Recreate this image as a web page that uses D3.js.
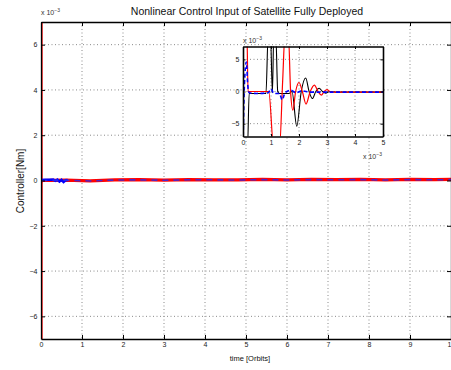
<!DOCTYPE html>
<html>
<head>
<meta charset="utf-8">
<script src="https://cdn.jsdelivr.net/npm/d3@7"></script>
<style>
body { margin: 0; background: #fff; }
svg { display: block; font-family: "Liberation Sans", Arial, sans-serif; }
</style>
</head>
<body>
<svg id="chart" width="451" height="370"></svg>
<script>
// ticks
var xTicks = [0, 1, 2, 3, 4, 5, 6, 7, 8, 9, 10];
var yTicks = [-6, -4, -2, 0, 2, 4, 6];
var insetXTicks = [0, 1, 2, 3, 4, 5];
var insetYTicks = [-5, 0, 5];

// start-up transient (time in 1e-3 orbits, torque in 1e-3 Nm)
var redT   = [0, 0.14, 0.18, 0.5, 0.92, 1.1, 1.3, 1.42, 1.5, 1.62, 1.7, 1.78, 1.88, 2.0, 2.12, 2.25, 2.4, 2.55, 2.68, 2.8, 2.9, 3.0, 3.1, 3.2, 3.4, 5];
var redV   = [9, 9, 0, 0, 0, -9, -9, 2, 9, 9, 0, -2.9, 0, 1.4, 0, -1.95, 0, 1.0, 0, -0.55, 0, 0.3, 0, -0.1, -0.1, -0.1];
var blackT = [0, 0.16, 0.22, 0.5, 0.82, 0.9, 0.98, 1.05, 1.1, 1.17, 1.24, 1.3, 1.65, 1.75, 1.92, 2.08, 2.24, 2.36, 2.48, 2.6, 2.72, 2.84, 2.95, 3.1, 3.3, 5];
var blackV = [-9, -9, -0.3, -0.3, -0.3, 9, 9, -0.2, 9, 9, 0, -0.3, -0.3, 0, -5.4, 0, 2.1, 0, -1.1, 0, 0.5, 0, -0.25, 0, -0.1, -0.1];
var blueT  = [0, 0.05, 0.12, 0.17, 0.22, 0.5, 0.9, 1.0, 1.1, 1.3, 1.4, 1.5, 1.7, 1.9, 2.1, 2.4, 5];
var blueV  = [-9, 1, 4.6, 1, -0.2, -0.3, -0.2, 0.4, -0.3, -0.3, -1.3, -0.2, 0.2, -0.2, 0.1, -0.1, -0.1];

// long run (time in orbits, torque in 1e-3 Nm)
var longT     = [0.01, 0.6, 1.2, 1.8, 2.4, 3, 3.6, 4.2, 4.8, 5.4, 6, 6.6, 7.2, 7.8, 8.4, 9, 9.6, 10];
var longRed   = [0, 0.02, -0.02, 0.03, 0.04, 0.02, 0.04, 0.03, 0.03, 0.05, 0.03, 0.05, 0.04, 0.05, 0.03, 0.05, 0.04, 0.05];
var longBlack = [0, 0.01, -0.01, 0.02, 0.02, 0.01, 0.03, 0.02, 0.02, 0.03, 0.02, 0.03, 0.02, 0.03, 0.02, 0.03, 0.03, 0.03];
var longBlue  = [0, 0.01, -0.02, 0.02, 0.03, 0.01, 0.03, 0.03, 0.02, 0.04, 0.02, 0.04, 0.03, 0.04, 0.02, 0.04, 0.03, 0.04];
var earlyBlueT = [0.005, 0.1, 0.2, 0.3, 0.35, 0.4, 0.45, 0.5, 0.55, 0.6, 0.65];
var earlyBlueV = [0.02, 0.03, 0.03, 0.04, -0.01, 0.04, -0.05, 0.03, -0.07, 0.01, 0.02];

var svg = d3.select("#chart");

function zip(ts, vs, k) {
  return ts.map(function (t, i) { return [t * k, vs[i]]; });
}

function drawFrame(g, x, y, xt, yt, id) {
  var x0 = x.range()[0], x1 = x.range()[1], y0 = y.range()[0], y1 = y.range()[1];
  g.append("rect").attr("x", x0).attr("y", y1).attr("width", x1 - x0).attr("height", y0 - y1).attr("fill", "#fff");
  g.append("g").selectAll("line").data(xt.filter(function (d) { return d > x.domain()[0] && d < x.domain()[1]; }))
    .enter().append("line")
    .attr("x1", function (d) { return x(d); }).attr("x2", function (d) { return x(d); })
    .attr("y1", y1).attr("y2", y0)
    .attr("stroke", "#8a8a8a").attr("stroke-dasharray", "1,2.5");
  g.append("g").selectAll("line").data(yt)
    .enter().append("line")
    .attr("y1", function (d) { return y(d); }).attr("y2", function (d) { return y(d); })
    .attr("x1", x0).attr("x2", x1)
    .attr("stroke", "#8a8a8a").attr("stroke-dasharray", "1,2.5");
  g.append("clipPath").attr("id", id).append("rect")
    .attr("x", x0).attr("y", y1).attr("width", x1 - x0).attr("height", y0 - y1);
}

function drawAxes(g, x, y, xt, yt, tick, fs, pad, sw) {
  var x0 = x.range()[0], x1 = x.range()[1], y0 = y.range()[0], y1 = y.range()[1];
  var fmt = function (d) { return d < 0 ? "\u2212" + (-d) : "" + d; };
  var ax = [
    g.append("g").attr("transform", "translate(0," + y0 + ")")
      .call(d3.axisBottom(x).tickValues(xt).tickSizeInner(-tick).tickSizeOuter(0).tickPadding(pad).tickFormat(fmt)),
    g.append("g").attr("transform", "translate(" + x0 + ",0)")
      .call(d3.axisLeft(y).tickValues(yt).tickSizeInner(-tick).tickSizeOuter(0).tickPadding(pad).tickFormat(fmt)),
    g.append("g").attr("transform", "translate(0," + y1 + ")")
      .call(d3.axisTop(x).tickValues(xt).tickSizeInner(-tick).tickSizeOuter(0).tickFormat("")),
    g.append("g").attr("transform", "translate(" + x1 + ",0)")
      .call(d3.axisRight(y).tickValues(yt).tickSizeInner(-tick).tickSizeOuter(0).tickFormat(""))
  ];
  ax.forEach(function (a) {
    a.select(".domain").attr("stroke", "#000").attr("stroke-width", sw);
    a.selectAll(".tick line").attr("stroke", "#000");
    a.selectAll("text").attr("font-size", fs).attr("fill", "#222").style("font-family", "'Liberation Sans', Arial, sans-serif");
  });
}

function exponent(g, xPos, yPos) {
  var t = g.append("text").attr("x", xPos).attr("y", yPos).attr("font-size", 7).attr("fill", "#333");
  t.append("tspan").text("x 10");
  t.append("tspan").attr("dy", -3).attr("font-size", 5).text("\u22123");
}

// ---------- main axes ----------
var x = d3.scaleLinear().domain([0, 10]).range([41, 451]);
var y = d3.scaleLinear().domain([-7, 7]).range([339, 22]);
var main = svg.append("g");
drawFrame(main, x, y, xTicks, yTicks, "clipMain");

var line = d3.line().x(function (d) { return x(d[0]); }).y(function (d) { return y(d[1]); });
var mainLines = main.append("g").attr("clip-path", "url(#clipMain)");
mainLines.append("path").datum(zip(blackT, blackV, 0.001).concat(zip(longT, longBlack, 1)))
  .attr("d", line).attr("fill", "none").attr("stroke", "#000").attr("stroke-width", 1.5);
mainLines.append("path").datum(zip(redT, redV, 0.001).concat(zip(longT, longRed, 1)))
  .attr("d", line).attr("fill", "none").attr("stroke", "#ff0000").attr("stroke-width", 3.2);
mainLines.append("path").datum(zip(blueT, blueV, 0.001))
  .attr("d", line).attr("fill", "none").attr("stroke", "#0000ff").attr("stroke-width", 1.2);
mainLines.append("path").datum(zip(earlyBlueT, earlyBlueV, 1))
  .attr("d", line).attr("fill", "none").attr("stroke", "#0000ff").attr("stroke-width", 2.5);
mainLines.append("path").datum(zip(longT, longBlue, 1))
  .attr("d", line).attr("fill", "none").attr("stroke", "#2a2af0").attr("stroke-opacity", 0.85)
  .attr("stroke-width", 1.6).attr("stroke-dasharray", "6,5");

drawAxes(main, x, y, xTicks, yTicks, 4, 7, 3.5, 1.3);
exponent(main, 41, 15);

svg.append("text").attr("x", 247).attr("y", 15).attr("text-anchor", "middle")
  .attr("font-size", 10.5).attr("fill", "#111").text("Nonlinear Control Input of Satellite Fully Deployed");
svg.append("text").attr("x", 250).attr("y", 361).attr("text-anchor", "middle")
  .attr("font-size", 7.5).attr("fill", "#111").text("time [Orbits]");
svg.append("text").attr("transform", "translate(23.5,181) rotate(-90)").attr("text-anchor", "middle")
  .attr("font-size", 10).attr("fill", "#111").text("Controller[Nm]");

// ---------- inset ----------
var xi = d3.scaleLinear().domain([0, 5]).range([243, 383]);
var yi = d3.scaleLinear().domain([-7, 7]).range([136.5, 46.5]);
var inset = svg.append("g");
drawFrame(inset, xi, yi, insetXTicks, insetYTicks, "clipInset");

var lineI = d3.line().curve(d3.curveMonotoneX)
  .x(function (d) { return xi(d[0]); }).y(function (d) { return yi(d[1]); });
var insetLines = inset.append("g").attr("clip-path", "url(#clipInset)");
insetLines.append("path").datum(zip(blackT, blackV, 1))
  .attr("d", lineI).attr("fill", "none").attr("stroke", "#000").attr("stroke-width", 1.1);
insetLines.append("path").datum(zip(redT, redV, 1))
  .attr("d", lineI).attr("fill", "none").attr("stroke", "#ff0000").attr("stroke-width", 1.2);
insetLines.append("path").datum(zip(blueT, blueV, 1))
  .attr("d", lineI).attr("fill", "none").attr("stroke", "#0000ff").attr("stroke-width", 1.6)
  .attr("stroke-dasharray", "4,2.5");

drawAxes(inset, xi, yi, insetXTicks, insetYTicks, 2.5, 7, 3.5, 1.6);
exponent(inset, 243, 43);
exponent(inset, 363, 159);
</script>
</body>
</html>
